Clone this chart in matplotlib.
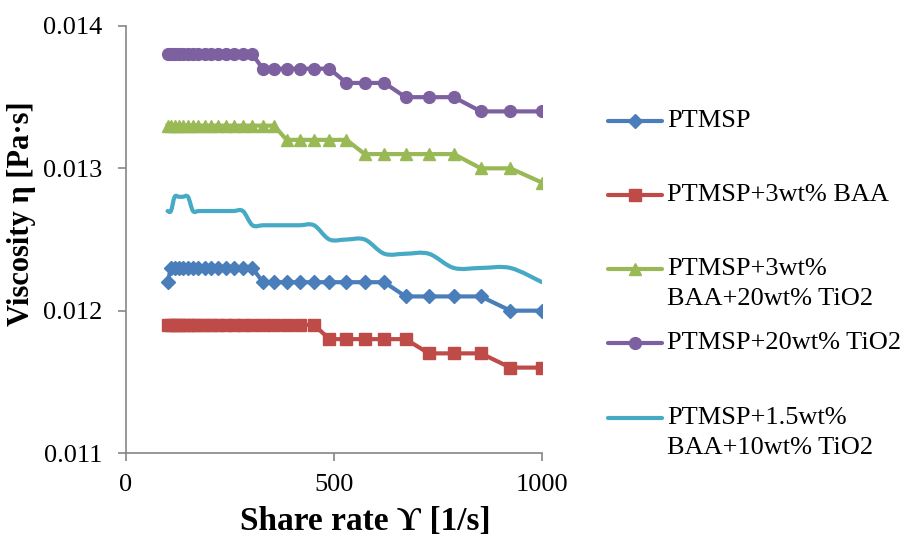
import numpy as np
import matplotlib.pyplot as plt
from matplotlib.path import Path
from matplotlib.patches import PathPatch
from matplotlib.lines import Line2D

plt.rcParams['font.family'] = ['Liberation Serif', 'DejaVu Serif']

# shear rate points (1/s)
shear_rate = [100, 108, 117, 127, 137, 149, 161, 174, 189, 204, 221, 240, 259, 281, 304,
              329, 356, 386, 418, 452, 489, 530, 574, 621, 672, 728, 788, 853, 924, 1000]

ptmsp = [0.0122, 0.0123, 0.0123, 0.0123, 0.0123, 0.0123, 0.0123, 0.0123, 0.0123, 0.0123,
         0.0123, 0.0123, 0.0123, 0.0123, 0.0123, 0.0122, 0.0122, 0.0122, 0.0122, 0.0122,
         0.0122, 0.0122, 0.0122, 0.0122, 0.0121, 0.0121, 0.0121, 0.0121, 0.0120, 0.0120]
ptmsp_baa = [0.0119, 0.0119, 0.0119, 0.0119, 0.0119, 0.0119, 0.0119, 0.0119, 0.0119, 0.0119,
             0.0119, 0.0119, 0.0119, 0.0119, 0.0119, 0.0119, 0.0119, 0.0119, 0.0119, 0.0119,
             0.0118, 0.0118, 0.0118, 0.0118, 0.0118, 0.0117, 0.0117, 0.0117, 0.0116, 0.0116]
ptmsp_baa_tio2 = [0.0133, 0.0133, 0.0133, 0.0133, 0.0133, 0.0133, 0.0133, 0.0133, 0.0133, 0.0133,
                  0.0133, 0.0133, 0.0133, 0.0133, 0.0133, 0.0133, 0.0133, 0.0132, 0.0132, 0.0132,
                  0.0132, 0.0132, 0.0131, 0.0131, 0.0131, 0.0131, 0.0131, 0.0130, 0.0130, 0.0129]
ptmsp_tio2 = [0.0138, 0.0138, 0.0138, 0.0138, 0.0138, 0.0138, 0.0138, 0.0138, 0.0138, 0.0138,
              0.0138, 0.0138, 0.0138, 0.0138, 0.0138, 0.0137, 0.0137, 0.0137, 0.0137, 0.0137,
              0.0137, 0.0136, 0.0136, 0.0136, 0.0135, 0.0135, 0.0135, 0.0134, 0.0134, 0.0134]
ptmsp_half = [0.0127, 0.0127, 0.0128, 0.0128, 0.0128, 0.0128, 0.0127, 0.0127, 0.0127, 0.0127,
              0.0127, 0.0127, 0.0127, 0.0127, 0.0126, 0.0126, 0.0126, 0.0126, 0.0126, 0.0126,
              0.0125, 0.0125, 0.0125, 0.0124, 0.0124, 0.0124, 0.0123, 0.0123, 0.0123, 0.0122]

series = [ptmsp, ptmsp_baa, ptmsp_baa_tio2, ptmsp_tio2, ptmsp_half]
labels = [['PTMSP'], ['PTMSP+3wt% BAA'], ['PTMSP+3wt%', 'BAA+20wt% TiO2'],
          ['PTMSP+20wt% TiO2'], ['PTMSP+1.5wt%', 'BAA+10wt% TiO2']]
colors = ['#4A7EBB', '#BE4B48', '#98B954', '#7D60A0', '#46AAC5']
markers = ['D', 's', '^', 'o', None]
msizes = [7, 8, 8.5, 8.5, 0]

x_ticks = [0, 500, 1000]
y_ticks = [0.011, 0.012, 0.013, 0.014]

LW = 3.0
GRAY = '#868686'


def smooth_path(x, y):
    # bezier curve through the points, like a smoothed line
    pts = np.column_stack([x, y]).astype(float)
    n = len(pts)
    verts = [pts[0]]
    codes = [Path.MOVETO]
    for i in range(n - 1):
        p0 = pts[i - 1] if i > 0 else pts[i]
        p1 = pts[i]
        p2 = pts[i + 1]
        p3 = pts[i + 2] if i + 2 < n else p2
        verts += [p1 + (p2 - p0) / 6, p2 - (p3 - p1) / 6, p2]
        codes += [Path.CURVE4] * 3
    return Path(verts, codes)


W, H = 906, 536
fig = plt.figure(figsize=(W / 100, H / 100), dpi=100)
ax = fig.add_axes([126 / W, 1 - 453 / H, 416 / W, 427 / H])

for vals, c, m, ms in zip(series, colors, markers, msizes):
    if m is None:
        ax.add_patch(PathPatch(smooth_path(shear_rate, vals), fill=False,
                               edgecolor=c, lw=LW, capstyle='round', joinstyle='round'))
    else:
        ax.plot(shear_rate, vals, color=c, lw=LW, marker=m, ms=ms,
                mfc=c, mec=c, solid_joinstyle='round')

ax.set_xlim(0, 1000)
ax.set_ylim(0.011, 0.014)
ax.set_xticks(x_ticks)
ax.set_yticks(y_ticks)
ax.set_yticklabels(['%.3f' % v for v in y_ticks])
for s in ['top', 'right']:
    ax.spines[s].set_visible(False)
for s in ['left', 'bottom']:
    ax.spines[s].set_color(GRAY)
    ax.spines[s].set_linewidth(1.2)
ax.tick_params(axis='both', direction='out', length=6, width=1.2, color=GRAY, labelsize=19)
ax.tick_params(axis='y', pad=11)
ax.tick_params(axis='x', pad=9)

ax.set_xlabel('Share rate ϒ [1/s]', fontsize=24, fontweight='bold')
ax.xaxis.set_label_coords((365 - 126) / 416, -(521 - 453) / 427)
ax.xaxis.label.set_va('center')
ax.set_ylabel('Viscosity η [Pa·s]', fontsize=22, fontweight='bold')
ax.yaxis.set_label_coords((22 - 126) / 416, 1 - (214 - 26) / 427)
ax.yaxis.label.set_va('center')

# legend, entries placed like the original
leg_y = [121, 195, 269, 343, 418]
for y, lab, c, m, ms in zip(leg_y, labels, colors, markers, msizes):
    fy = 1 - y / H
    fig.add_artist(Line2D([608 / W, 662 / W], [fy, fy], transform=fig.transFigure,
                          color=c, lw=LW, solid_capstyle='round'))
    if m is not None:
        fig.add_artist(Line2D([635 / W], [fy], transform=fig.transFigure, marker=m,
                              ms=ms, mfc=c, mec=c, ls='none'))
    for k, line in enumerate(lab):
        fig.text(667 / W, 1 - (y + 30 * k) / H, line, fontsize=19, va='center', ha='left')

plt.savefig('out.png', dpi=100)
